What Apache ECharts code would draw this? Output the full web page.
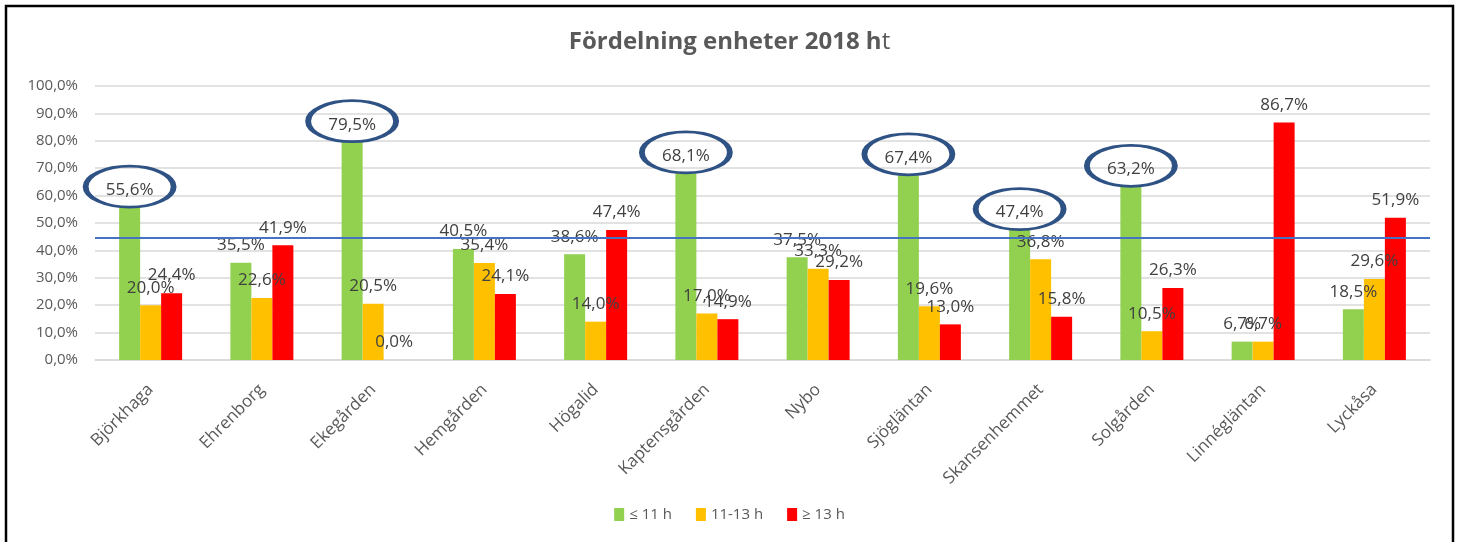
<!DOCTYPE html>
<html lang="sv">
<head>
<meta charset="UTF-8">
<title>Fördelning enheter 2018 ht</title>
<script src="https://cdn.jsdelivr.net/npm/echarts@6/dist/echarts.min.js"></script>
<style>
    html, body { margin: 0; padding: 0; background: #fff; }
    #main { width: 1459px; height: 542px; }
</style>
</head>
<body>
<div id="main"></div>
<script>
    // enheter
    var units = ['Björkhaga', 'Ehrenborg', 'Ekegården', 'Hemgården', 'Högalid', 'Kaptensgården',
        'Nybo', 'Sjögläntan', 'Skansenhemmet', 'Solgården', 'Linnégläntan', 'Lyckåsa'];
    var seriesNames = ['≤ 11 h', '11-13 h', '≥ 13 h'];
    var under11 = [55.6, 35.5, 79.5, 40.5, 38.6, 68.1, 37.5, 67.4, 47.4, 63.2, 6.7, 18.5];
    var between11and13 = [20.0, 22.6, 20.5, 35.4, 14.0, 17.0, 33.3, 19.6, 36.8, 10.5, 6.7, 29.6];
    var over13 = [24.4, 41.9, 0.0, 24.1, 47.4, 14.9, 29.2, 13.0, 15.8, 26.3, 86.7, 51.9];
    // inringade enheter (index i units) för ≤ 11 h
    var circled = [0, 2, 5, 7, 8, 9];
    var refLine = 44.6;

    var colors = ['#92D050', '#FFC000', '#FF0000'];
    var font = '"Open Sans", Lato, sans-serif';

    function pct(v) {
        return v.toFixed(1).replace('.', ',') + '%';
    }

    var myChart = echarts.init(document.getElementById('main'));

    function makeSeries(name, data, color, idx) {
        var s = {
            name: name,
            type: 'bar',
            data: data,
            barWidth: 21,
            barGap: '0%',
            itemStyle: { color: color },
            label: {
                show: true,
                position: 'top',
                distance: 9,
                color: '#404040',
                fontFamily: font,
                fontSize: 17,
                formatter: function (p) { return pct(p.value); }
            }
        };
        if (idx === 0) {
            s.markPoint = {
                symbol: 'circle',
                symbolSize: [88, 41],
                symbolOffset: [0, -21],
                silent: true,
                itemStyle: { color: 'rgba(0,0,0,0)', borderColor: '#2F5285', borderWidth: 4 },
                label: { show: false },
                data: circled.map(function (i) {
                    return { coord: [i, data[i]] };
                })
            };
            s.markLine = {
                silent: true,
                symbol: ['none', 'none'],
                label: { show: false },
                lineStyle: { color: '#4472C4', width: 2, type: 'solid' },
                data: [{ yAxis: refLine }]
            };
        }
        return s;
    }

    var option = {
        animation: false,
        textStyle: { fontFamily: font },
        title: {
            text: '{b|Fördelning enheter 2018 h}{n|t}',
            left: 'center',
            top: 25,
            textStyle: {
                rich: {
                    b: { fontFamily: font, fontSize: 24, fontWeight: 'bold', color: '#595959' },
                    n: { fontFamily: font, fontSize: 24, fontWeight: 'normal', color: '#595959' }
                }
            }
        },
        legend: {
            data: seriesNames,
            bottom: 15,
            left: 'center',
            itemWidth: 10,
            itemHeight: 13,
            itemGap: 24,
            icon: 'rect',
            textStyle: { color: '#595959', fontSize: 15, fontFamily: font }
        },
        grid: { left: 95, right: 29, top: 86, bottom: 182 },
        xAxis: {
            type: 'category',
            data: units,
            axisTick: { show: false },
            axisLine: { lineStyle: { color: '#D9D9D9', width: 1.5 } },
            axisLabel: { rotate: 45, margin: 27, color: '#595959', fontSize: 17, fontFamily: font, interval: 0 }
        },
        yAxis: {
            type: 'value',
            min: 0,
            max: 100,
            interval: 10,
            axisLine: { show: false },
            axisTick: { show: false },
            splitLine: { lineStyle: { color: '#D9D9D9', width: 1.5 } },
            axisLabel: {
                margin: 17,
                color: '#595959',
                fontSize: 15,
                fontFamily: font,
                formatter: function (v) { return pct(v); }
            }
        },
        graphic: [{
            type: 'rect',
            silent: true,
            shape: { x: 6, y: 6, width: 1447, height: 600 },
            style: { fill: 'none', stroke: '#000', lineWidth: 2.5 }
        }],
        series: [
            makeSeries(seriesNames[0], under11, colors[0], 0),
            makeSeries(seriesNames[1], between11and13, colors[1], 1),
            makeSeries(seriesNames[2], over13, colors[2], 2)
        ]
    };
    myChart.setOption(option);
</script>
</body>
</html>
